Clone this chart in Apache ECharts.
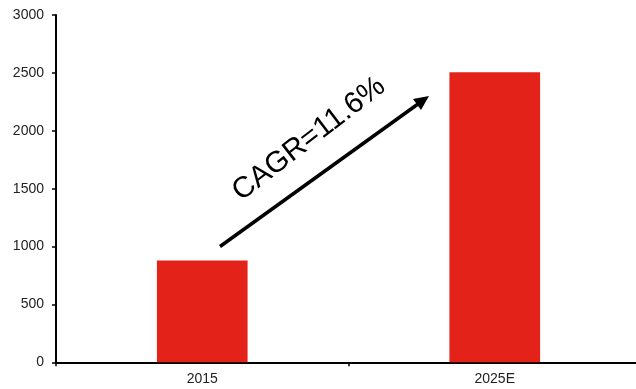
<!DOCTYPE html>
<html><head><meta charset="utf-8">
<script src="https://cdn.jsdelivr.net/npm/echarts@6/dist/echarts.min.js"></script>
<style>html,body{margin:0;padding:0;background:#fff}#c{width:636px;height:389px}</style>
</head><body><div id="c"></div>
<script>
const categories = ['2015', '2025E'];
const values = [880, 2505];
const yTicks = [0, 500, 1000, 1500, 2000, 2500, 3000];
const annotation = 'CAGR=11.6%';

const chart = echarts.init(document.getElementById('c'), null, {renderer: 'canvas'});
const font = 'Liberation Sans, Arial, sans-serif';
chart.setOption({
  animation: false,
  backgroundColor: '#fff',
  grid: {left: 56, top: 15, bottom: 26.7, right: -5, containLabel: false, outerBoundsMode: 'none'},
  xAxis: {
    type: 'category', data: categories,
    axisLine: {lineStyle: {color: '#000', width: 2}},
    axisTick: {show: true, length: 4, lineStyle: {color: '#000', width: 1.5}},
    axisLabel: {color: '#222', fontSize: 14, fontFamily: font, margin: 10}
  },
  yAxis: {
    type: 'value', min: yTicks[0], max: yTicks[yTicks.length - 1], interval: 500,
    splitLine: {show: false},
    axisLine: {show: true, lineStyle: {color: '#000', width: 2}},
    axisTick: {show: true, length: 4, lineStyle: {color: '#000', width: 1.5}},
    axisLabel: {color: '#222', fontSize: 14, fontFamily: font, margin: 12, formatter: v => String(v)}
  },
  series: [{
    type: 'bar', data: values, barWidth: '31%',
    itemStyle: {color: '#e3221a'}
  }],
  graphic: [
    {
      type: 'line', shape: {x1: 220, y1: 246.5, x2: 418, y2: 104},
      style: {stroke: '#000', lineWidth: 3.5}
    },
    {
      type: 'polygon',
      shape: {points: [[429, 96], [413, 99], [421, 110]]},
      style: {fill: '#000'}
    },
    {
      type: 'text', x: 309, y: 139, rotation: 37.5 * Math.PI / 180,
      style: {text: annotation, fill: '#000', font: '29.5px ' + font, textAlign: 'center', textVerticalAlign: 'middle'}
    }
  ]
});
</script></body></html>
